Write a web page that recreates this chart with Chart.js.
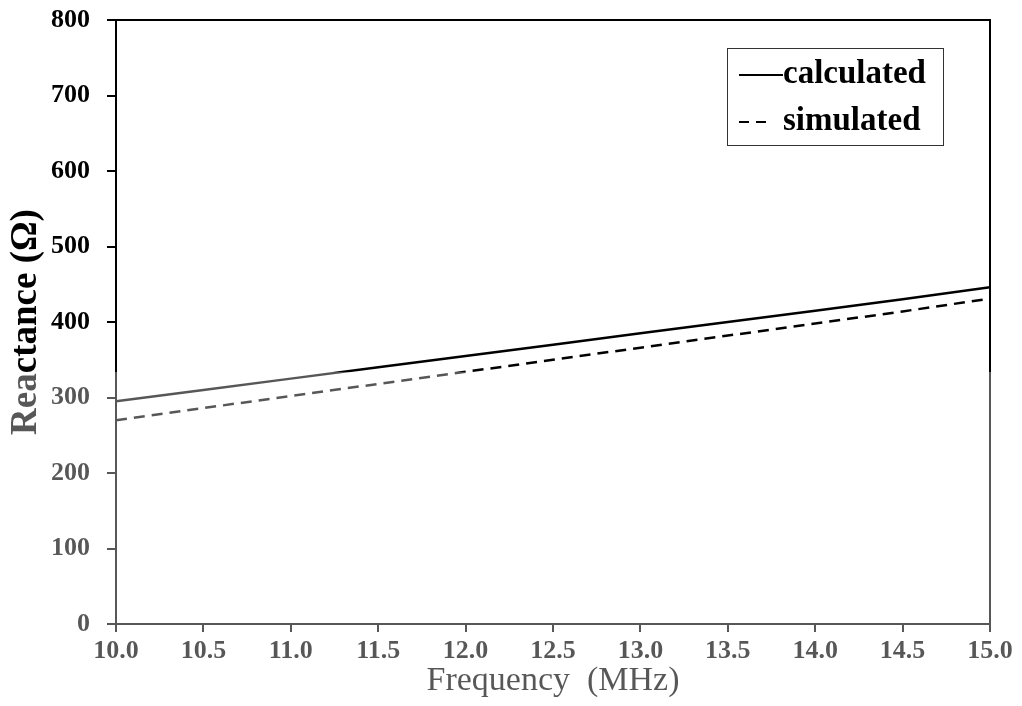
<!DOCTYPE html>
<html>
<head>
<meta charset="utf-8">
<title>Reactance vs Frequency</title>
<script src="https://cdn.jsdelivr.net/npm/chart.js@4/dist/chart.umd.min.js"></script>
<style>
    html, body { margin: 0; padding: 0; background: #fff; }
    #wrap { width: 1022px; height: 706px; }
</style>
</head>
<body>
<div id="wrap"><canvas id="reactanceChart" width="1022" height="706"></canvas></div>
<script>
// Data
const frequencies = [10.0, 10.5, 11.0, 11.5, 12.0, 12.5, 13.0, 13.5, 14.0, 14.5, 15.0];
const calculated  = [295, 310, 325, 340, 355, 370, 385, 400, 415, 430, 446];
const simulated   = [270, 286, 302, 318, 334, 350, 366, 382, 398, 414, 431];

const xTitle = 'Frequency  (MHz)';
const yTitle = 'Reactance (\u03A9)';

const FONT = '"Liberation Serif", "Times New Roman", serif';

// Turn two arrays into {x, y} points
function toPoints(xs, ys) {
    return xs.map((x, i) => ({ x: x, y: ys[i] }));
}

// Top and right frame lines plus the boxed legend
const framePlugin = {
    id: 'frame',
    afterDraw(chart) {
        const ctx = chart.ctx;
        const area = chart.chartArea;

        ctx.save();
        ctx.strokeStyle = '#000';
        ctx.lineWidth = 2;
        ctx.beginPath();
        ctx.moveTo(area.left - 8, area.top);
        ctx.lineTo(area.right, area.top);
        ctx.lineTo(area.right, area.bottom);
        ctx.stroke();

        // legend box
        const bx = area.right - 263, by = area.top + 28, bw = 216, bh = 97;
        ctx.lineWidth = 1;
        ctx.strokeStyle = '#333';
        ctx.strokeRect(bx + 0.5, by + 0.5, bw, bh);

        ctx.font = 'bold 33px ' + FONT;
        ctx.fillStyle = '#000';
        ctx.textBaseline = 'alphabetic';
        chart.data.datasets.forEach((ds, i) => {
            const baseY = by + 35 + i * 47;
            const dashed = !!ds.borderDash;
            ctx.beginPath();
            ctx.lineWidth = 2;
            ctx.strokeStyle = '#000';
            ctx.setLineDash(dashed ? [10, 7] : []);
            ctx.moveTo(bx + 12, baseY - 8);
            ctx.lineTo(bx + (dashed ? 40 : 56), baseY - 8);
            ctx.stroke();
            ctx.setLineDash([]);
            ctx.fillText(ds.label, bx + 56, baseY);
        });

        // washed-out lower part of the scan
        ctx.fillStyle = 'rgba(255,255,255,0.34)';
        ctx.fillRect(0, 372, chart.width, chart.height - 372);
        ctx.restore();
    }
};

function initializeChart() {
    const ctx = document.getElementById('reactanceChart').getContext('2d');

    new Chart(ctx, {
        type: 'line',
        data: {
            datasets: [{
                label: 'calculated',
                data: toPoints(frequencies, calculated),
                borderColor: '#000',
                borderWidth: 2.5,
                pointRadius: 0,
                tension: 0
            }, {
                label: 'simulated',
                data: toPoints(frequencies, simulated),
                borderColor: '#000',
                borderWidth: 2.5,
                borderDash: [11, 7],
                pointRadius: 0,
                tension: 0
            }]
        },
        options: {
            responsive: false,
            animation: false,
            layout: {
                padding: { top: 20, right: 32, left: 0, bottom: 0 }
            },
            plugins: {
                legend: { display: false },
                tooltip: { enabled: false }
            },
            scales: {
                x: {
                    type: 'linear',
                    min: 10,
                    max: 15,
                    ticks: {
                        stepSize: 0.5,
                        color: '#000',
                        padding: 4,
                        font: { family: FONT, size: 26, weight: 'bold' },
                        callback: v => v.toFixed(1)
                    },
                    grid: {
                        drawOnChartArea: false,
                        drawTicks: true,
                        tickLength: 8,
                        color: '#000',
                        lineWidth: 2
                    },
                    border: { display: true, color: '#000', width: 2 },
                    title: {
                        display: true,
                        text: xTitle,
                        color: '#000',
                        padding: { top: 0, bottom: 5 },
                        font: { family: FONT, size: 34 }
                    },
                    afterFit: scale => { scale.height = 82; }
                },
                y: {
                    min: 0,
                    max: 800,
                    ticks: {
                        stepSize: 100,
                        color: '#000',
                        padding: 17,
                        font: { family: FONT, size: 26, weight: 'bold' }
                    },
                    grid: {
                        drawOnChartArea: false,
                        drawTicks: true,
                        tickLength: 9,
                        color: '#000',
                        lineWidth: 2
                    },
                    border: { display: true, color: '#000', width: 2 },
                    title: {
                        display: true,
                        text: yTitle,
                        color: '#000',
                        padding: 4,
                        font: { family: FONT, size: 37, weight: 'bold' }
                    },
                    afterFit: scale => {
                        scale.width = 116;
                        scale.paddingTop = 0;
                        scale.paddingBottom = 0;
                    }
                }
            }
        },
        plugins: [framePlugin]
    });
}

initializeChart();
</script>
</body>
</html>
